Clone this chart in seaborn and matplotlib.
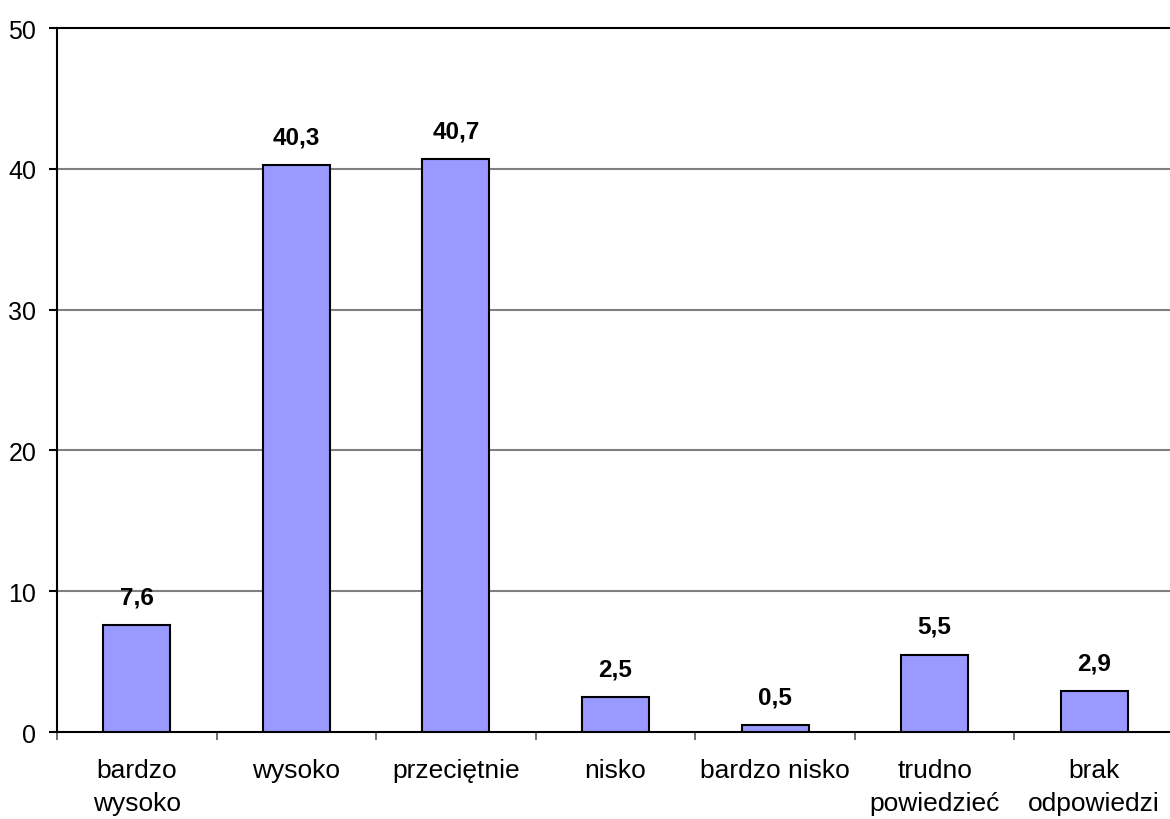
import matplotlib
matplotlib.use("Agg")
import matplotlib.pyplot as plt
import seaborn as sns
import pandas as pd
import numpy as np
from matplotlib.ticker import FixedLocator

categories = ["bardzo\nwysoko", "wysoko", "przeciętnie", "nisko",
              "bardzo nisko", "trudno\npowiedzieć", "brak\nodpowiedzi"]
values = [7.6, 40.3, 40.7, 2.5, 0.5, 5.5, 2.9]
value_labels = ["7,6", "40,3", "40,7", "2,5", "0,5", "5,5", "2,9"]
y_ticks = [0, 10, 20, 30, 40, 50]

sns.set_theme(style="white")
plt.rcParams["font.family"] = ["Liberation Sans", "DejaVu Sans"]
plt.rcParams["text.color"] = "black"
plt.rcParams["xtick.color"] = "black"
plt.rcParams["ytick.color"] = "black"

df = pd.DataFrame({"kategoria": categories, "procent": values})

fig = plt.figure(figsize=(11.7, 8.2), dpi=100)
ax = fig.add_axes([0.0487, 0.106, 0.9547, 0.8585])

sns.barplot(data=df, x="kategoria", y="procent", color="#9999FF",
            saturation=1, edgecolor="black", linewidth=1.5, width=0.42,
            ax=ax, zorder=3)

ax.set_xlim(-0.5, len(categories) - 0.5)
ax.set_ylim(0, 50)
ax.set_yticks(y_ticks)
ax.set_yticklabels([str(t) for t in y_ticks], fontsize=18, color="black")
ax.set_xlabel("")
ax.set_ylabel("")

# gridlines
for t in y_ticks[1:-1]:
    ax.axhline(t, color="#808080", linewidth=1.5, zorder=1)

# spines
for side in ["left", "bottom", "top"]:
    ax.spines[side].set_visible(True)
    ax.spines[side].set_color("black")
    ax.spines[side].set_linewidth(1.5)
ax.spines["right"].set_visible(False)

# category labels centred, tick marks at the boundaries
ax.tick_params(axis="x", which="major", length=0, pad=19, labelsize=19,
               labelcolor="black")
ax.xaxis.set_minor_locator(FixedLocator(np.arange(-0.5, len(categories), 1.0)))
ax.tick_params(axis="x", which="minor", bottom=True, length=6, width=1.2,
               color="#555555", direction="out")
ax.tick_params(axis="y", left=True, length=6, width=1.5, color="black",
               direction="out", pad=9)
for lbl in ax.get_xticklabels():
    lbl.set_linespacing(1.45)

# value labels above bars
for i, (v, s) in enumerate(zip(values, value_labels)):
    ax.annotate(s, xy=(i, v), xytext=(0, 12), textcoords="offset points",
                ha="center", va="bottom", fontsize=17.5, fontweight="bold",
                color="black")

fig.savefig("out.png", dpi=100, facecolor="white")
